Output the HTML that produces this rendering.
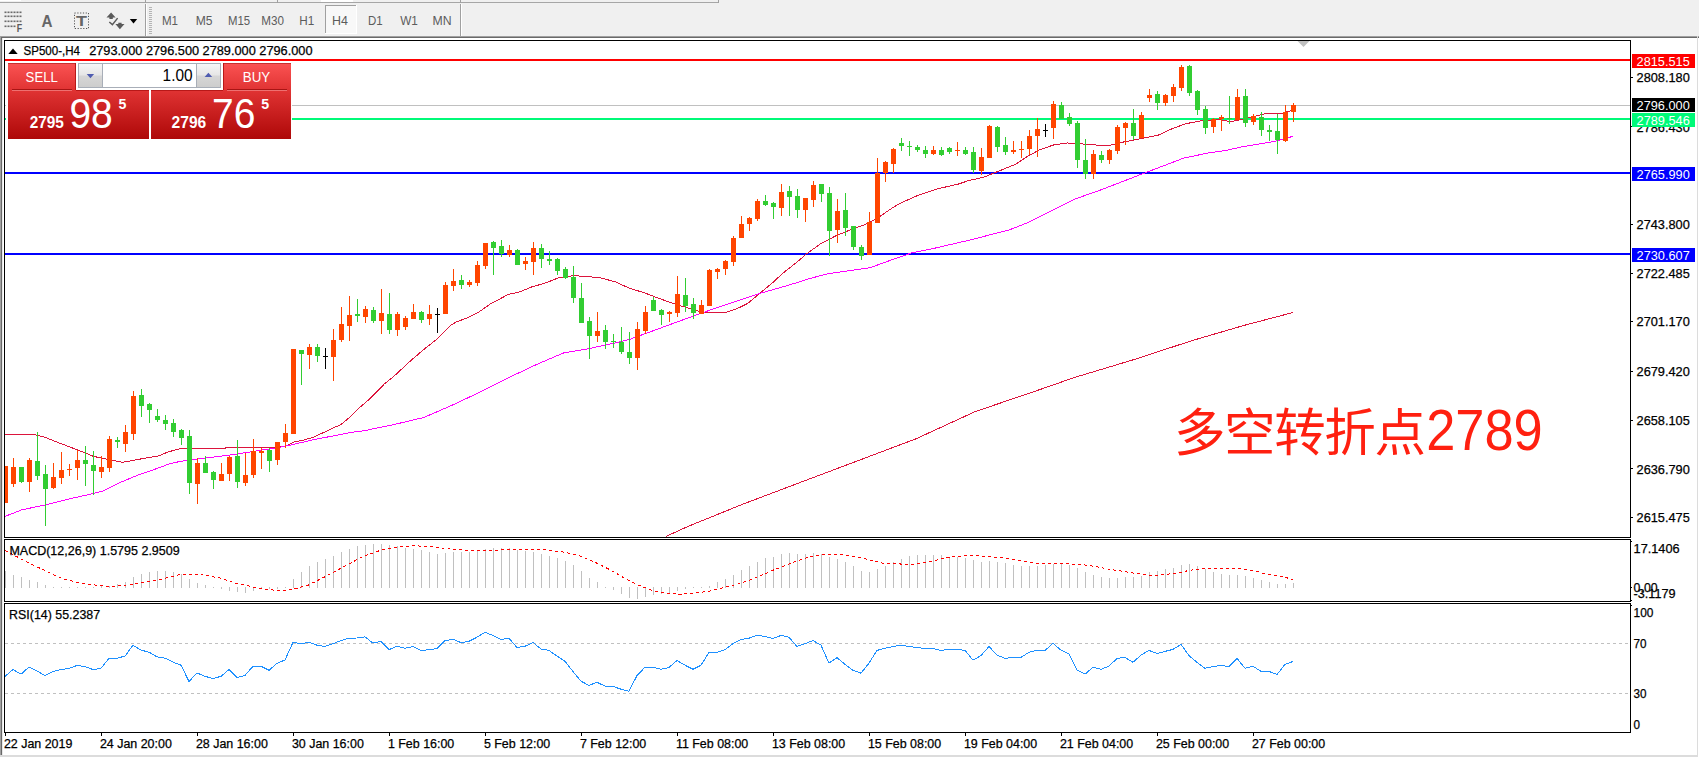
<!DOCTYPE html>
<html lang="zh"><head><meta charset="utf-8"><title>SP500-,H4</title>
<style>html,body{margin:0;padding:0;background:#fff;overflow:hidden}body{width:1699px;height:757px}</style></head>
<body>
<svg width="1699" height="757" viewBox="0 0 1699 757" font-family='"Liberation Sans", sans-serif' style="display:block">
<rect x="0" y="0" width="1699" height="757" fill="#ffffff" />
<rect x="0" y="0" width="1699" height="36" fill="#f0f0f0" />
<g shape-rendering="crispEdges">
<rect x="0" y="2" width="718" height="1" fill="#a6a6a6" />
<rect x="0" y="0" width="21" height="1" fill="#ffffff" />
<rect x="321" y="0" width="32" height="2" fill="#ffffff" />
<rect x="145" y="0" width="1" height="3" fill="#a0a0a0" />
<rect x="277" y="0" width="1" height="3" fill="#a0a0a0" />
<rect x="460" y="0" width="1" height="3" fill="#a0a0a0" />
<rect x="718" y="0" width="1" height="3" fill="#a0a0a0" />
<rect x="145" y="4" width="1" height="32" fill="#a0a0a0" />
<rect x="146" y="4" width="1" height="32" fill="#ffffff" />
<rect x="460" y="4" width="1" height="32" fill="#a0a0a0" />
<rect x="461" y="4" width="1" height="32" fill="#ffffff" />
<rect x="149" y="7" width="3" height="1" fill="#b4b4b4" />
<rect x="149" y="9" width="3" height="1" fill="#b4b4b4" />
<rect x="149" y="11" width="3" height="1" fill="#b4b4b4" />
<rect x="149" y="13" width="3" height="1" fill="#b4b4b4" />
<rect x="149" y="15" width="3" height="1" fill="#b4b4b4" />
<rect x="149" y="17" width="3" height="1" fill="#b4b4b4" />
<rect x="149" y="19" width="3" height="1" fill="#b4b4b4" />
<rect x="149" y="21" width="3" height="1" fill="#b4b4b4" />
<rect x="149" y="23" width="3" height="1" fill="#b4b4b4" />
<rect x="149" y="25" width="3" height="1" fill="#b4b4b4" />
<rect x="149" y="27" width="3" height="1" fill="#b4b4b4" />
<rect x="149" y="29" width="3" height="1" fill="#b4b4b4" />
<rect x="149" y="31" width="3" height="1" fill="#b4b4b4" />
<rect x="149" y="33" width="3" height="1" fill="#b4b4b4" />
<rect x="325" y="5" width="32" height="29" fill="#f8f8f8" />
<rect x="325" y="5" width="32" height="1" fill="#a0a0a0" />
<rect x="325" y="5" width="1" height="29" fill="#a0a0a0" />
<rect x="325" y="33" width="32" height="1" fill="#ffffff" />
<rect x="356" y="5" width="1" height="29" fill="#ffffff" />
<rect x="0" y="36" width="1699" height="1" fill="#a0a0a0" />
<rect x="0" y="37" width="1699" height="1" fill="#696969" />
<rect x="0" y="36" width="1" height="721" fill="#a0a0a0" />
<rect x="1" y="37" width="1" height="720" fill="#696969" />
<rect x="2" y="38" width="1" height="719" fill="#e8e8e8" />
<rect x="1697" y="36" width="1" height="721" fill="#dcdcdc" />
<rect x="0" y="755" width="1698" height="2" fill="#dcdcdc" />
</g>
<g fill="#6a6a6a">
<rect x="4.5" y="11.5" width="2" height="1.6" fill="#6a6a6a" />
<rect x="7.5" y="11.5" width="2" height="1.6" fill="#6a6a6a" />
<rect x="10.5" y="11.5" width="2" height="1.6" fill="#6a6a6a" />
<rect x="13.5" y="11.5" width="2" height="1.6" fill="#6a6a6a" />
<rect x="16.5" y="11.5" width="2" height="1.6" fill="#6a6a6a" />
<rect x="19.5" y="11.5" width="2" height="1.6" fill="#6a6a6a" />
<rect x="4.5" y="15.5" width="2" height="1.6" fill="#6a6a6a" />
<rect x="7.5" y="15.5" width="2" height="1.6" fill="#6a6a6a" />
<rect x="10.5" y="15.5" width="2" height="1.6" fill="#6a6a6a" />
<rect x="13.5" y="15.5" width="2" height="1.6" fill="#6a6a6a" />
<rect x="16.5" y="15.5" width="2" height="1.6" fill="#6a6a6a" />
<rect x="19.5" y="15.5" width="2" height="1.6" fill="#6a6a6a" />
<rect x="4.5" y="20.5" width="2" height="1.6" fill="#6a6a6a" />
<rect x="7.5" y="20.5" width="2" height="1.6" fill="#6a6a6a" />
<rect x="10.5" y="20.5" width="2" height="1.6" fill="#6a6a6a" />
<rect x="13.5" y="20.5" width="2" height="1.6" fill="#6a6a6a" />
<rect x="16.5" y="20.5" width="2" height="1.6" fill="#6a6a6a" />
<rect x="19.5" y="20.5" width="2" height="1.6" fill="#6a6a6a" />
<rect x="4.5" y="25.5" width="2" height="1.6" fill="#6a6a6a" />
<rect x="7.5" y="25.5" width="2" height="1.6" fill="#6a6a6a" />
<rect x="10.5" y="25.5" width="2" height="1.6" fill="#6a6a6a" />
<rect x="13.5" y="25.5" width="2" height="1.6" fill="#6a6a6a" />
</g>
<text x="16.8" y="31.6" font-size="10.6" fill="#5a5a5a" textLength="5.4" lengthAdjust="spacingAndGlyphs" font-weight="bold">F</text>
<text x="41.5" y="27" font-size="16.5" fill="#666" textLength="11" lengthAdjust="spacingAndGlyphs" font-weight="bold">A</text>
<rect x="74.5" y="13" width="14" height="15.5" fill="none" stroke="#555" stroke-width="1" stroke-dasharray="1.2,1.6"/>
<text x="76" y="26.2" font-size="14" fill="#666" textLength="11" lengthAdjust="spacingAndGlyphs" font-weight="bold">T</text>
<path d="M106.5 17.6 L111.1 12.4 L115.6 17.6 L112.8 17.6 L112.8 18.9 L109.4 18.9 L109.4 17.6 Z M118.3 22.8 L121.6 22.8 L121.6 24.1 L124.5 24.1 L119.9 29.2 L115.4 24.1 L118.3 24.1 Z" fill="#5a5a5a"/>
<path d="M109.3 22 L112.4 24.6 L117.6 18.1" fill="none" stroke="#5a5a5a" stroke-width="1.5"/>
<path d="M129.8 18.9 L137.2 18.9 L133.5 23.4 Z" fill="#000"/>
<text x="161.9" y="25" font-size="12.6" fill="#5c5c5c" textLength="16.1" lengthAdjust="spacingAndGlyphs">M1</text>
<text x="195.7" y="25" font-size="12.6" fill="#5c5c5c" textLength="16.8" lengthAdjust="spacingAndGlyphs">M5</text>
<text x="228" y="25" font-size="12.6" fill="#5c5c5c" textLength="22.1" lengthAdjust="spacingAndGlyphs">M15</text>
<text x="261.3" y="25" font-size="12.6" fill="#5c5c5c" textLength="22.7" lengthAdjust="spacingAndGlyphs">M30</text>
<text x="299.3" y="25" font-size="12.6" fill="#5c5c5c" textLength="15.0" lengthAdjust="spacingAndGlyphs">H1</text>
<text x="332" y="25" font-size="12.6" fill="#5c5c5c" textLength="15.9" lengthAdjust="spacingAndGlyphs">H4</text>
<text x="367.9" y="25" font-size="12.6" fill="#5c5c5c" textLength="14.7" lengthAdjust="spacingAndGlyphs">D1</text>
<text x="400.2" y="25" font-size="12.6" fill="#5c5c5c" textLength="17.7" lengthAdjust="spacingAndGlyphs">W1</text>
<text x="432.6" y="25" font-size="12.6" fill="#5c5c5c" textLength="19.1" lengthAdjust="spacingAndGlyphs">MN</text>
<g shape-rendering="crispEdges">
<rect x="4" y="40" width="1627" height="1" fill="#000" />
<rect x="4" y="537" width="1627" height="1" fill="#000" />
<rect x="4" y="40" width="1" height="498" fill="#000" />
<rect x="1630" y="40" width="1" height="498" fill="#000" />
<rect x="4" y="539" width="1627" height="1" fill="#000" />
<rect x="4" y="601" width="1627" height="1" fill="#000" />
<rect x="4" y="539" width="1" height="63" fill="#000" />
<rect x="1630" y="539" width="1" height="63" fill="#000" />
<rect x="4" y="603" width="1627" height="1" fill="#000" />
<rect x="4" y="732" width="1627" height="1" fill="#000" />
<rect x="4" y="603" width="1" height="130" fill="#000" />
<rect x="1630" y="603" width="1" height="130" fill="#000" />
<rect x="5" y="59" width="1625" height="2" fill="#ff0000" />
<rect x="292" y="105" width="1338" height="1" fill="#c0c0c0" />
<rect x="292" y="118" width="1338" height="2" fill="#00fa78" />
<rect x="5" y="118" width="1" height="2" fill="#00fa78" />
<rect x="5" y="105" width="1" height="1" fill="#c0c0c0" />
<rect x="5" y="172" width="1625" height="2" fill="#0000ff" />
<rect x="5" y="253" width="1625" height="2" fill="#0000ff" />
<rect x="1631" y="77" width="2" height="1" fill="#000" />
<rect x="1631" y="126" width="2" height="1" fill="#000" />
<rect x="1631" y="224" width="2" height="1" fill="#000" />
<rect x="1631" y="273" width="2" height="1" fill="#000" />
<rect x="1631" y="321" width="2" height="1" fill="#000" />
<rect x="1631" y="371" width="2" height="1" fill="#000" />
<rect x="1631" y="420" width="2" height="1" fill="#000" />
<rect x="1631" y="468" width="2" height="1" fill="#000" />
<rect x="1631" y="517" width="2" height="1" fill="#000" />
<rect x="1631" y="541" width="1" height="1" fill="#000" />
<rect x="1631" y="587" width="1" height="1" fill="#000" />
<rect x="1631" y="600" width="1" height="1" fill="#000" />
<rect x="1631" y="605" width="1" height="1" fill="#000" />
<rect x="5" y="733" width="1" height="3" fill="#000" />
<rect x="101" y="733" width="1" height="3" fill="#000" />
<rect x="197" y="733" width="1" height="3" fill="#000" />
<rect x="293" y="733" width="1" height="3" fill="#000" />
<rect x="389" y="733" width="1" height="3" fill="#000" />
<rect x="485" y="733" width="1" height="3" fill="#000" />
<rect x="581" y="733" width="1" height="3" fill="#000" />
<rect x="677" y="733" width="1" height="3" fill="#000" />
<rect x="773" y="733" width="1" height="3" fill="#000" />
<rect x="869" y="733" width="1" height="3" fill="#000" />
<rect x="965" y="733" width="1" height="3" fill="#000" />
<rect x="1061" y="733" width="1" height="3" fill="#000" />
<rect x="1157" y="733" width="1" height="3" fill="#000" />
<rect x="1253" y="733" width="1" height="3" fill="#000" />
</g>
<text x="1636.6" y="81.9" font-size="12.6" fill="#000" textLength="53.2" lengthAdjust="spacingAndGlyphs" stroke="#000" stroke-width="0.25">2808.180</text>
<text x="1636.6" y="131.6" font-size="12.6" fill="#000" textLength="53.2" lengthAdjust="spacingAndGlyphs" stroke="#000" stroke-width="0.25">2786.430</text>
<text x="1636.6" y="229.0" font-size="12.6" fill="#000" textLength="53.2" lengthAdjust="spacingAndGlyphs" stroke="#000" stroke-width="0.25">2743.800</text>
<text x="1636.6" y="277.7" font-size="12.6" fill="#000" textLength="53.2" lengthAdjust="spacingAndGlyphs" stroke="#000" stroke-width="0.25">2722.485</text>
<text x="1636.6" y="326.4" font-size="12.6" fill="#000" textLength="53.2" lengthAdjust="spacingAndGlyphs" stroke="#000" stroke-width="0.25">2701.170</text>
<text x="1636.6" y="376.0" font-size="12.6" fill="#000" textLength="53.2" lengthAdjust="spacingAndGlyphs" stroke="#000" stroke-width="0.25">2679.420</text>
<text x="1636.6" y="424.8" font-size="12.6" fill="#000" textLength="53.2" lengthAdjust="spacingAndGlyphs" stroke="#000" stroke-width="0.25">2658.105</text>
<text x="1636.6" y="473.5" font-size="12.6" fill="#000" textLength="53.2" lengthAdjust="spacingAndGlyphs" stroke="#000" stroke-width="0.25">2636.790</text>
<text x="1636.6" y="522.2" font-size="12.6" fill="#000" textLength="53.2" lengthAdjust="spacingAndGlyphs" stroke="#000" stroke-width="0.25">2615.475</text>
<rect x="1632" y="54" width="63" height="14" fill="#ff0000" shape-rendering="crispEdges"/>
<text x="1636.6" y="65.7" font-size="12.6" fill="#fff" textLength="53.2" lengthAdjust="spacingAndGlyphs">2815.515</text>
<rect x="1632" y="98" width="63" height="14" fill="#000000" shape-rendering="crispEdges"/>
<text x="1636.6" y="109.7" font-size="12.6" fill="#fff" textLength="53.2" lengthAdjust="spacingAndGlyphs">2796.000</text>
<rect x="1632" y="113" width="63" height="14" fill="#00fa78" shape-rendering="crispEdges"/>
<text x="1636.6" y="124.7" font-size="12.6" fill="#fff" textLength="53.2" lengthAdjust="spacingAndGlyphs">2789.546</text>
<rect x="1632" y="167" width="63" height="14" fill="#0000ff" shape-rendering="crispEdges"/>
<text x="1636.6" y="178.7" font-size="12.6" fill="#fff" textLength="53.2" lengthAdjust="spacingAndGlyphs">2765.990</text>
<rect x="1632" y="248" width="63" height="14" fill="#0000ff" shape-rendering="crispEdges"/>
<text x="1636.6" y="259.7" font-size="12.6" fill="#fff" textLength="53.2" lengthAdjust="spacingAndGlyphs">2730.607</text>
<polyline points="665.6,536.6 687.3,526.7 742.5,504.3 797.7,483.4 845.0,465.6 916.0,438.8 975.2,411.6 1034.3,391.5 1073.8,377.7 1132.9,359.9 1192.1,340.6 1243.3,325.6 1292.6,312.6" fill="none" stroke="#dc143c" stroke-width="1" shape-rendering="crispEdges" />
<polyline points="5.0,434.1 32.7,434.1 45.6,437.5 61.4,443.8 77.3,449.8 93.2,456.3 107.0,459.3 122.9,462.3 138.8,459.3 158.6,455.9 168.5,451.8 180.4,448.6 195.0,448.7 225.0,448.7 226.0,447.5 274.0,447.5 286.0,446.1 294.0,441.9 304.0,440.0 314.0,437.0 333.8,427.7 340.5,424.8 348.4,418.4 360.3,407.0 370.2,398.4 384.1,384.2 394.0,376.2 409.9,361.4 423.8,349.5 437.6,338.6 450.9,325.1 456.8,321.7 466.7,318.2 478.6,312.2 490.5,303.9 508.4,294.4 518.3,292.4 532.1,286.8 544.0,283.5 557.9,278.1 573.8,275.5 583.7,276.5 599.5,277.5 615.4,281.9 629.0,288.0 644.9,293.0 658.7,298.3 674.6,303.9 688.5,308.2 702.3,312.2 726.1,312.2 736.0,309.2 747.9,303.3 759.8,293.4 771.7,283.5 783.6,272.6 797.5,261.7 806.3,254.0 820.2,244.1 836.1,235.7 851.9,229.2 863.8,225.2 875.7,219.3 891.6,208.4 898.9,203.9 918.7,195.0 938.5,188.6 958.3,184.1 968.3,180.7 984.1,177.1 996.0,172.2 1015.8,164.2 1027.7,156.3 1039.6,149.8 1053.5,145.0 1067.4,143.0 1080.9,143.8 1096.8,145.1 1110.6,145.1 1122.5,142.2 1138.4,139.2 1158.2,135.2 1172.1,128.7 1185.9,123.7 1199.8,121.0 1219.6,119.4 1230.0,121.8 1239.5,119.8 1248.0,117.8 1266.0,113.6 1280.7,113.6 1293.4,110.1" fill="none" stroke="#dc143c" stroke-width="1" shape-rendering="crispEdges" />
<polyline points="5.0,516.4 21.8,509.8 45.6,504.9 69.4,498.9 93.2,493.6 103.0,491.0 119.0,483.0 138.8,474.7 150.6,470.8 168.5,464.2 180.4,461.3 195.0,459.4 234.6,454.4 274.3,448.1 286.0,446.1 314.0,439.6 353.6,432.0 364.3,430.7 395.0,424.3 423.8,417.5 453.5,404.6 485.0,389.7 514.3,375.0 536.1,364.7 563.9,352.8 587.6,348.9 615.4,342.9 629.0,339.6 668.6,325.1 702.3,312.8 728.1,303.9 759.8,293.4 787.6,285.5 812.3,277.8 829.0,273.6 869.8,267.8 891.6,259.9 911.4,253.0 933.0,248.6 970.0,240.0 1008.9,230.0 1027.7,222.7 1053.5,209.8 1075.3,198.9 1098.7,190.7 1142.3,173.9 1164.1,165.6 1184.0,158.0 1207.8,153.1 1227.6,150.1 1240.6,147.1 1256.4,144.5 1277.6,140.8 1292.9,136.3" fill="none" stroke="#ff00ff" stroke-width="1" shape-rendering="crispEdges" />
<g shape-rendering="crispEdges">
<rect x="5" y="466" width="1" height="37" fill="#ff4500" />
<rect x="5" y="466" width="3" height="37" fill="#ff4500" />
<rect x="13" y="458" width="1" height="29" fill="#ff4500" />
<rect x="11" y="467" width="5" height="17" fill="#ff4500" />
<rect x="21" y="467" width="1" height="16" fill="#32cd32" />
<rect x="19" y="467" width="5" height="15" fill="#32cd32" />
<rect x="29" y="458" width="1" height="34" fill="#ff4500" />
<rect x="27" y="460" width="5" height="22" fill="#ff4500" />
<rect x="37" y="432" width="1" height="48" fill="#32cd32" />
<rect x="35" y="461" width="5" height="15" fill="#32cd32" />
<rect x="45" y="465" width="1" height="61" fill="#32cd32" />
<rect x="43" y="474" width="5" height="15" fill="#32cd32" />
<rect x="53" y="463" width="1" height="26" fill="#ff4500" />
<rect x="51" y="477" width="5" height="11" fill="#ff4500" />
<rect x="61" y="452" width="1" height="32" fill="#ff4500" />
<rect x="59" y="470" width="5" height="8" fill="#ff4500" />
<rect x="69" y="464" width="1" height="12" fill="#ff4500" />
<rect x="67" y="469" width="5" height="1" fill="#ff4500" />
<rect x="77" y="450" width="1" height="30" fill="#ff4500" />
<rect x="75" y="460" width="5" height="8" fill="#ff4500" />
<rect x="85" y="446" width="1" height="40" fill="#32cd32" />
<rect x="83" y="460" width="5" height="4" fill="#32cd32" />
<rect x="93" y="451" width="1" height="44" fill="#32cd32" />
<rect x="91" y="465" width="5" height="6" fill="#32cd32" />
<rect x="101" y="456" width="1" height="22" fill="#ff4500" />
<rect x="99" y="467" width="5" height="5" fill="#ff4500" />
<rect x="109" y="436" width="1" height="36" fill="#ff4500" />
<rect x="107" y="439" width="5" height="29" fill="#ff4500" />
<rect x="117" y="437" width="1" height="11" fill="#32cd32" />
<rect x="115" y="440" width="5" height="2" fill="#32cd32" />
<rect x="125" y="425" width="1" height="27" fill="#ff4500" />
<rect x="123" y="432" width="5" height="12" fill="#ff4500" />
<rect x="133" y="391" width="1" height="49" fill="#ff4500" />
<rect x="131" y="396" width="5" height="38" fill="#ff4500" />
<rect x="141" y="389" width="1" height="28" fill="#32cd32" />
<rect x="139" y="395" width="5" height="11" fill="#32cd32" />
<rect x="149" y="403" width="1" height="20" fill="#32cd32" />
<rect x="147" y="404" width="5" height="6" fill="#32cd32" />
<rect x="157" y="409" width="1" height="13" fill="#32cd32" />
<rect x="155" y="416" width="5" height="4" fill="#32cd32" />
<rect x="165" y="415" width="1" height="15" fill="#32cd32" />
<rect x="163" y="420" width="5" height="4" fill="#32cd32" />
<rect x="173" y="419" width="1" height="18" fill="#32cd32" />
<rect x="171" y="423" width="5" height="9" fill="#32cd32" />
<rect x="181" y="429" width="1" height="16" fill="#32cd32" />
<rect x="179" y="430" width="5" height="8" fill="#32cd32" />
<rect x="189" y="430" width="1" height="64" fill="#32cd32" />
<rect x="187" y="436" width="5" height="47" fill="#32cd32" />
<rect x="197" y="458" width="1" height="46" fill="#ff4500" />
<rect x="195" y="463" width="5" height="21" fill="#ff4500" />
<rect x="205" y="456" width="1" height="17" fill="#32cd32" />
<rect x="203" y="463" width="5" height="10" fill="#32cd32" />
<rect x="213" y="471" width="1" height="18" fill="#32cd32" />
<rect x="211" y="472" width="5" height="8" fill="#32cd32" />
<rect x="221" y="463" width="1" height="18" fill="#ff4500" />
<rect x="219" y="474" width="5" height="7" fill="#ff4500" />
<rect x="229" y="456" width="1" height="25" fill="#ff4500" />
<rect x="227" y="457" width="5" height="17" fill="#ff4500" />
<rect x="237" y="440" width="1" height="48" fill="#32cd32" />
<rect x="235" y="456" width="5" height="26" fill="#32cd32" />
<rect x="245" y="453" width="1" height="33" fill="#ff4500" />
<rect x="243" y="475" width="5" height="8" fill="#ff4500" />
<rect x="253" y="439" width="1" height="39" fill="#ff4500" />
<rect x="251" y="451" width="5" height="24" fill="#ff4500" />
<rect x="261" y="448" width="1" height="21" fill="#ff4500" />
<rect x="259" y="451" width="5" height="2" fill="#ff4500" />
<rect x="269" y="448" width="1" height="24" fill="#32cd32" />
<rect x="267" y="450" width="5" height="11" fill="#32cd32" />
<rect x="277" y="442" width="1" height="23" fill="#ff4500" />
<rect x="275" y="442" width="5" height="18" fill="#ff4500" />
<rect x="285" y="424" width="1" height="24" fill="#ff4500" />
<rect x="283" y="433" width="5" height="9" fill="#ff4500" />
<rect x="293" y="349" width="1" height="85" fill="#ff4500" />
<rect x="291" y="349" width="5" height="85" fill="#ff4500" />
<rect x="301" y="350" width="1" height="35" fill="#32cd32" />
<rect x="299" y="350" width="5" height="4" fill="#32cd32" />
<rect x="309" y="344" width="1" height="25" fill="#ff4500" />
<rect x="307" y="347" width="5" height="8" fill="#ff4500" />
<rect x="317" y="344" width="1" height="18" fill="#32cd32" />
<rect x="315" y="347" width="5" height="9" fill="#32cd32" />
<rect x="325" y="348" width="1" height="21" fill="#000000" />
<rect x="323" y="356" width="5" height="1" fill="#000000" />
<rect x="333" y="329" width="1" height="52" fill="#ff4500" />
<rect x="331" y="340" width="5" height="17" fill="#ff4500" />
<rect x="341" y="307" width="1" height="35" fill="#ff4500" />
<rect x="339" y="324" width="5" height="16" fill="#ff4500" />
<rect x="349" y="296" width="1" height="45" fill="#ff4500" />
<rect x="347" y="315" width="5" height="11" fill="#ff4500" />
<rect x="357" y="299" width="1" height="23" fill="#32cd32" />
<rect x="355" y="314" width="5" height="2" fill="#32cd32" />
<rect x="365" y="306" width="1" height="17" fill="#ff4500" />
<rect x="363" y="309" width="5" height="8" fill="#ff4500" />
<rect x="373" y="307" width="1" height="16" fill="#32cd32" />
<rect x="371" y="310" width="5" height="11" fill="#32cd32" />
<rect x="381" y="289" width="1" height="45" fill="#ff4500" />
<rect x="379" y="313" width="5" height="8" fill="#ff4500" />
<rect x="389" y="293" width="1" height="41" fill="#32cd32" />
<rect x="387" y="314" width="5" height="16" fill="#32cd32" />
<rect x="397" y="312" width="1" height="24" fill="#ff4500" />
<rect x="395" y="314" width="5" height="16" fill="#ff4500" />
<rect x="405" y="316" width="1" height="14" fill="#ff4500" />
<rect x="403" y="318" width="5" height="9" fill="#ff4500" />
<rect x="413" y="304" width="1" height="15" fill="#ff4500" />
<rect x="411" y="312" width="5" height="7" fill="#ff4500" />
<rect x="421" y="311" width="1" height="12" fill="#32cd32" />
<rect x="419" y="312" width="5" height="8" fill="#32cd32" />
<rect x="429" y="305" width="1" height="20" fill="#ff4500" />
<rect x="427" y="314" width="5" height="5" fill="#ff4500" />
<rect x="437" y="308" width="1" height="25" fill="#000000" />
<rect x="435" y="314" width="5" height="1" fill="#000000" />
<rect x="445" y="282" width="1" height="32" fill="#ff4500" />
<rect x="443" y="285" width="5" height="29" fill="#ff4500" />
<rect x="453" y="269" width="1" height="22" fill="#ff4500" />
<rect x="451" y="281" width="5" height="5" fill="#ff4500" />
<rect x="461" y="275" width="1" height="14" fill="#32cd32" />
<rect x="459" y="280" width="5" height="5" fill="#32cd32" />
<rect x="469" y="280" width="1" height="7" fill="#ff4500" />
<rect x="467" y="282" width="5" height="3" fill="#ff4500" />
<rect x="477" y="261" width="1" height="25" fill="#ff4500" />
<rect x="475" y="265" width="5" height="18" fill="#ff4500" />
<rect x="485" y="243" width="1" height="26" fill="#ff4500" />
<rect x="483" y="243" width="5" height="23" fill="#ff4500" />
<rect x="493" y="241" width="1" height="34" fill="#32cd32" />
<rect x="491" y="242" width="5" height="6" fill="#32cd32" />
<rect x="501" y="240" width="1" height="17" fill="#32cd32" />
<rect x="499" y="246" width="5" height="8" fill="#32cd32" />
<rect x="509" y="245" width="1" height="12" fill="#ff4500" />
<rect x="507" y="250" width="5" height="5" fill="#ff4500" />
<rect x="517" y="249" width="1" height="16" fill="#32cd32" />
<rect x="515" y="250" width="5" height="15" fill="#32cd32" />
<rect x="525" y="257" width="1" height="13" fill="#ff4500" />
<rect x="523" y="261" width="5" height="3" fill="#ff4500" />
<rect x="533" y="242" width="1" height="33" fill="#ff4500" />
<rect x="531" y="248" width="5" height="14" fill="#ff4500" />
<rect x="541" y="244" width="1" height="24" fill="#32cd32" />
<rect x="539" y="248" width="5" height="11" fill="#32cd32" />
<rect x="549" y="251" width="1" height="14" fill="#32cd32" />
<rect x="547" y="259" width="5" height="2" fill="#32cd32" />
<rect x="557" y="258" width="1" height="17" fill="#32cd32" />
<rect x="555" y="259" width="5" height="12" fill="#32cd32" />
<rect x="565" y="267" width="1" height="12" fill="#32cd32" />
<rect x="563" y="269" width="5" height="9" fill="#32cd32" />
<rect x="573" y="266" width="1" height="37" fill="#32cd32" />
<rect x="571" y="277" width="5" height="21" fill="#32cd32" />
<rect x="581" y="283" width="1" height="40" fill="#32cd32" />
<rect x="579" y="298" width="5" height="25" fill="#32cd32" />
<rect x="589" y="317" width="1" height="42" fill="#32cd32" />
<rect x="587" y="321" width="5" height="15" fill="#32cd32" />
<rect x="597" y="312" width="1" height="30" fill="#ff4500" />
<rect x="595" y="331" width="5" height="5" fill="#ff4500" />
<rect x="605" y="325" width="1" height="24" fill="#32cd32" />
<rect x="603" y="330" width="5" height="12" fill="#32cd32" />
<rect x="613" y="334" width="1" height="14" fill="#32cd32" />
<rect x="611" y="341" width="5" height="1" fill="#32cd32" />
<rect x="621" y="327" width="1" height="27" fill="#32cd32" />
<rect x="619" y="342" width="5" height="10" fill="#32cd32" />
<rect x="629" y="332" width="1" height="32" fill="#32cd32" />
<rect x="627" y="352" width="5" height="6" fill="#32cd32" />
<rect x="637" y="322" width="1" height="48" fill="#ff4500" />
<rect x="635" y="329" width="5" height="29" fill="#ff4500" />
<rect x="645" y="306" width="1" height="28" fill="#ff4500" />
<rect x="643" y="312" width="5" height="19" fill="#ff4500" />
<rect x="653" y="297" width="1" height="14" fill="#32cd32" />
<rect x="651" y="300" width="5" height="11" fill="#32cd32" />
<rect x="661" y="309" width="1" height="16" fill="#32cd32" />
<rect x="659" y="310" width="5" height="5" fill="#32cd32" />
<rect x="669" y="311" width="1" height="11" fill="#ff4500" />
<rect x="667" y="312" width="5" height="2" fill="#ff4500" />
<rect x="677" y="276" width="1" height="41" fill="#ff4500" />
<rect x="675" y="294" width="5" height="19" fill="#ff4500" />
<rect x="685" y="278" width="1" height="34" fill="#32cd32" />
<rect x="683" y="295" width="5" height="11" fill="#32cd32" />
<rect x="693" y="298" width="1" height="21" fill="#32cd32" />
<rect x="691" y="304" width="5" height="9" fill="#32cd32" />
<rect x="701" y="300" width="1" height="14" fill="#ff4500" />
<rect x="699" y="305" width="5" height="9" fill="#ff4500" />
<rect x="709" y="269" width="1" height="37" fill="#ff4500" />
<rect x="707" y="270" width="5" height="36" fill="#ff4500" />
<rect x="717" y="268" width="1" height="11" fill="#ff4500" />
<rect x="715" y="269" width="5" height="3" fill="#ff4500" />
<rect x="725" y="260" width="1" height="15" fill="#ff4500" />
<rect x="723" y="261" width="5" height="8" fill="#ff4500" />
<rect x="733" y="236" width="1" height="30" fill="#ff4500" />
<rect x="731" y="238" width="5" height="24" fill="#ff4500" />
<rect x="741" y="216" width="1" height="22" fill="#ff4500" />
<rect x="739" y="224" width="5" height="14" fill="#ff4500" />
<rect x="749" y="217" width="1" height="14" fill="#ff4500" />
<rect x="747" y="218" width="5" height="6" fill="#ff4500" />
<rect x="757" y="199" width="1" height="22" fill="#ff4500" />
<rect x="755" y="201" width="5" height="18" fill="#ff4500" />
<rect x="765" y="195" width="1" height="11" fill="#32cd32" />
<rect x="763" y="201" width="5" height="4" fill="#32cd32" />
<rect x="773" y="202" width="1" height="17" fill="#32cd32" />
<rect x="771" y="203" width="5" height="4" fill="#32cd32" />
<rect x="781" y="184" width="1" height="32" fill="#ff4500" />
<rect x="779" y="192" width="5" height="16" fill="#ff4500" />
<rect x="789" y="186" width="1" height="30" fill="#32cd32" />
<rect x="787" y="191" width="5" height="6" fill="#32cd32" />
<rect x="797" y="189" width="1" height="29" fill="#32cd32" />
<rect x="795" y="196" width="5" height="14" fill="#32cd32" />
<rect x="805" y="198" width="1" height="24" fill="#ff4500" />
<rect x="803" y="198" width="5" height="12" fill="#ff4500" />
<rect x="813" y="181" width="1" height="26" fill="#ff4500" />
<rect x="811" y="185" width="5" height="15" fill="#ff4500" />
<rect x="821" y="184" width="1" height="18" fill="#32cd32" />
<rect x="819" y="184" width="5" height="10" fill="#32cd32" />
<rect x="829" y="187" width="1" height="69" fill="#32cd32" />
<rect x="827" y="193" width="5" height="38" fill="#32cd32" />
<rect x="837" y="199" width="1" height="44" fill="#ff4500" />
<rect x="835" y="211" width="5" height="19" fill="#ff4500" />
<rect x="845" y="193" width="1" height="43" fill="#32cd32" />
<rect x="843" y="210" width="5" height="18" fill="#32cd32" />
<rect x="853" y="226" width="1" height="24" fill="#32cd32" />
<rect x="851" y="226" width="5" height="21" fill="#32cd32" />
<rect x="861" y="245" width="1" height="15" fill="#32cd32" />
<rect x="859" y="247" width="5" height="9" fill="#32cd32" />
<rect x="869" y="212" width="1" height="43" fill="#ff4500" />
<rect x="867" y="222" width="5" height="33" fill="#ff4500" />
<rect x="877" y="158" width="1" height="65" fill="#ff4500" />
<rect x="875" y="173" width="5" height="50" fill="#ff4500" />
<rect x="885" y="161" width="1" height="21" fill="#ff4500" />
<rect x="883" y="162" width="5" height="11" fill="#ff4500" />
<rect x="893" y="148" width="1" height="25" fill="#ff4500" />
<rect x="891" y="149" width="5" height="15" fill="#ff4500" />
<rect x="901" y="138" width="1" height="13" fill="#32cd32" />
<rect x="899" y="143" width="5" height="3" fill="#32cd32" />
<rect x="909" y="141" width="1" height="15" fill="#32cd32" />
<rect x="907" y="146" width="5" height="1" fill="#32cd32" />
<rect x="917" y="145" width="1" height="7" fill="#32cd32" />
<rect x="915" y="147" width="5" height="3" fill="#32cd32" />
<rect x="925" y="146" width="1" height="12" fill="#32cd32" />
<rect x="923" y="150" width="5" height="4" fill="#32cd32" />
<rect x="933" y="146" width="1" height="9" fill="#ff4500" />
<rect x="931" y="150" width="5" height="4" fill="#ff4500" />
<rect x="941" y="147" width="1" height="9" fill="#32cd32" />
<rect x="939" y="150" width="5" height="5" fill="#32cd32" />
<rect x="949" y="147" width="1" height="7" fill="#32cd32" />
<rect x="947" y="148" width="5" height="4" fill="#32cd32" />
<rect x="957" y="142" width="1" height="14" fill="#ff4500" />
<rect x="955" y="150" width="5" height="1" fill="#ff4500" />
<rect x="965" y="147" width="1" height="8" fill="#32cd32" />
<rect x="963" y="150" width="5" height="4" fill="#32cd32" />
<rect x="973" y="147" width="1" height="26" fill="#32cd32" />
<rect x="971" y="152" width="5" height="18" fill="#32cd32" />
<rect x="981" y="148" width="1" height="27" fill="#ff4500" />
<rect x="979" y="157" width="5" height="14" fill="#ff4500" />
<rect x="989" y="125" width="1" height="33" fill="#ff4500" />
<rect x="987" y="126" width="5" height="32" fill="#ff4500" />
<rect x="997" y="126" width="1" height="26" fill="#32cd32" />
<rect x="995" y="127" width="5" height="20" fill="#32cd32" />
<rect x="1005" y="137" width="1" height="18" fill="#32cd32" />
<rect x="1003" y="145" width="5" height="7" fill="#32cd32" />
<rect x="1013" y="141" width="1" height="13" fill="#ff4500" />
<rect x="1011" y="150" width="5" height="2" fill="#ff4500" />
<rect x="1021" y="141" width="1" height="17" fill="#ff4500" />
<rect x="1019" y="149" width="5" height="1" fill="#ff4500" />
<rect x="1029" y="130" width="1" height="25" fill="#ff4500" />
<rect x="1027" y="136" width="5" height="13" fill="#ff4500" />
<rect x="1037" y="118" width="1" height="39" fill="#ff4500" />
<rect x="1035" y="129" width="5" height="7" fill="#ff4500" />
<rect x="1045" y="124" width="1" height="13" fill="#000000" />
<rect x="1043" y="130" width="5" height="1" fill="#000000" />
<rect x="1053" y="101" width="1" height="38" fill="#ff4500" />
<rect x="1051" y="104" width="5" height="24" fill="#ff4500" />
<rect x="1061" y="102" width="1" height="17" fill="#32cd32" />
<rect x="1059" y="105" width="5" height="14" fill="#32cd32" />
<rect x="1069" y="113" width="1" height="13" fill="#32cd32" />
<rect x="1067" y="117" width="5" height="7" fill="#32cd32" />
<rect x="1077" y="121" width="1" height="47" fill="#32cd32" />
<rect x="1075" y="123" width="5" height="37" fill="#32cd32" />
<rect x="1085" y="139" width="1" height="40" fill="#32cd32" />
<rect x="1083" y="160" width="5" height="14" fill="#32cd32" />
<rect x="1093" y="150" width="1" height="29" fill="#ff4500" />
<rect x="1091" y="154" width="5" height="20" fill="#ff4500" />
<rect x="1101" y="151" width="1" height="12" fill="#32cd32" />
<rect x="1099" y="155" width="5" height="5" fill="#32cd32" />
<rect x="1109" y="149" width="1" height="15" fill="#ff4500" />
<rect x="1107" y="150" width="5" height="10" fill="#ff4500" />
<rect x="1117" y="125" width="1" height="29" fill="#ff4500" />
<rect x="1115" y="127" width="5" height="24" fill="#ff4500" />
<rect x="1125" y="122" width="1" height="23" fill="#ff4500" />
<rect x="1123" y="123" width="5" height="5" fill="#ff4500" />
<rect x="1133" y="109" width="1" height="31" fill="#32cd32" />
<rect x="1131" y="123" width="5" height="13" fill="#32cd32" />
<rect x="1141" y="112" width="1" height="26" fill="#ff4500" />
<rect x="1139" y="115" width="5" height="23" fill="#ff4500" />
<rect x="1149" y="89" width="1" height="13" fill="#ff4500" />
<rect x="1147" y="95" width="5" height="3" fill="#ff4500" />
<rect x="1157" y="91" width="1" height="19" fill="#32cd32" />
<rect x="1155" y="94" width="5" height="9" fill="#32cd32" />
<rect x="1165" y="94" width="1" height="12" fill="#ff4500" />
<rect x="1163" y="95" width="5" height="8" fill="#ff4500" />
<rect x="1173" y="84" width="1" height="18" fill="#ff4500" />
<rect x="1171" y="87" width="5" height="9" fill="#ff4500" />
<rect x="1181" y="65" width="1" height="26" fill="#ff4500" />
<rect x="1179" y="67" width="5" height="21" fill="#ff4500" />
<rect x="1189" y="65" width="1" height="31" fill="#32cd32" />
<rect x="1187" y="66" width="5" height="27" fill="#32cd32" />
<rect x="1197" y="90" width="1" height="25" fill="#32cd32" />
<rect x="1195" y="91" width="5" height="19" fill="#32cd32" />
<rect x="1205" y="106" width="1" height="28" fill="#32cd32" />
<rect x="1203" y="109" width="5" height="19" fill="#32cd32" />
<rect x="1213" y="118" width="1" height="15" fill="#ff4500" />
<rect x="1211" y="119" width="5" height="8" fill="#ff4500" />
<rect x="1221" y="115" width="1" height="16" fill="#ff4500" />
<rect x="1219" y="117" width="5" height="2" fill="#ff4500" />
<rect x="1229" y="96" width="1" height="28" fill="#32cd32" />
<rect x="1227" y="118" width="5" height="1" fill="#32cd32" />
<rect x="1237" y="89" width="1" height="31" fill="#ff4500" />
<rect x="1235" y="97" width="5" height="23" fill="#ff4500" />
<rect x="1245" y="89" width="1" height="38" fill="#32cd32" />
<rect x="1243" y="96" width="5" height="27" fill="#32cd32" />
<rect x="1253" y="114" width="1" height="11" fill="#ff4500" />
<rect x="1251" y="116" width="5" height="6" fill="#ff4500" />
<rect x="1261" y="112" width="1" height="24" fill="#32cd32" />
<rect x="1259" y="117" width="5" height="13" fill="#32cd32" />
<rect x="1269" y="125" width="1" height="16" fill="#32cd32" />
<rect x="1267" y="130" width="5" height="2" fill="#32cd32" />
<rect x="1277" y="114" width="1" height="40" fill="#32cd32" />
<rect x="1275" y="131" width="5" height="9" fill="#32cd32" />
<rect x="1285" y="105" width="1" height="37" fill="#ff4500" />
<rect x="1283" y="112" width="5" height="29" fill="#ff4500" />
<rect x="1293" y="103" width="1" height="19" fill="#ff4500" />
<rect x="1291" y="105" width="5" height="7" fill="#ff4500" />
</g>
<path d="M1297.5 41 L1309.5 41 L1303.5 47 Z" fill="#c0c0c0"/>
<text x="1174" y="451" font-size="51.5" fill="#ff2010" textLength="252" lengthAdjust="spacing" font-family='"Liberation Sans", "Noto Sans CJK SC", sans-serif'>多空转折点</text>
<text x="1426.2" y="450" font-size="57" fill="#ff2010" textLength="116.5" lengthAdjust="spacingAndGlyphs" font-family='"Liberation Sans", "Noto Sans CJK SC", sans-serif'>2789</text>
<path d="M8.3 54 L17.7 54 L13 48.5 Z" fill="#000"/>
<text x="23.5" y="55" font-size="12.6" fill="#000" textLength="56.5" lengthAdjust="spacingAndGlyphs" stroke="#000" stroke-width="0.25">SP500-,H4</text>
<text x="89.2" y="55" font-size="12.6" fill="#000" textLength="223.3" lengthAdjust="spacingAndGlyphs" stroke="#000" stroke-width="0.25">2793.000 2796.500 2789.000 2796.000</text>
<defs><linearGradient id="rg" x1="0" y1="0" x2="0" y2="1"><stop offset="0" stop-color="#fb5353"/><stop offset="0.36" stop-color="#e03333"/><stop offset="1" stop-color="#ae0808"/></linearGradient><linearGradient id="bg" x1="0" y1="0" x2="0" y2="1"><stop offset="0" stop-color="#f6f6f6"/><stop offset="0.48" stop-color="#e6e6e6"/><stop offset="0.52" stop-color="#d6d6d6"/><stop offset="1" stop-color="#cdcdcd"/></linearGradient></defs>
<g shape-rendering="crispEdges">
<path d="M8 63 H75 V90 H149 V139 H8 Z" fill="url(#rg)"/>
<path d="M224 63 H291 V139 H151 V90 H224 Z" fill="url(#rg)"/>
<rect x="12" y="89" width="60" height="1" fill="#a81414" />
<rect x="227" y="89" width="60" height="1" fill="#a81414" />
<rect x="12" y="90" width="60" height="1" fill="#ee7070" />
<rect x="227" y="90" width="60" height="1" fill="#ee7070" />
<rect x="8" y="63" width="67" height="1" fill="#c83030" />
<rect x="224" y="63" width="67" height="1" fill="#c83030" />
<rect x="75" y="63" width="1" height="27" fill="#b81818" />
<rect x="223" y="63" width="1" height="27" fill="#b81818" />
<rect x="76" y="90" width="73" height="1" fill="#b81818" />
<rect x="151" y="90" width="72" height="1" fill="#b81818" />
<rect x="76" y="63" width="147" height="27" fill="#ffffff" />
<rect x="78.5" y="63.5" width="142" height="24" fill="#ffffff" stroke="#a8aeb8"/>
<rect x="79" y="64" width="23" height="23" fill="url(#bg)" />
<rect x="197" y="64" width="23" height="23" fill="url(#bg)" />
<rect x="102" y="64" width="1" height="23" fill="#a8aeb8" />
<rect x="196" y="64" width="1" height="23" fill="#a8aeb8" />
</g>
<path d="M86.7 74 L94.1 74 L90.4 78.2 Z" fill="#4f5cb0"/>
<path d="M204.6 77.1 L212.2 77.1 L208.4 72.8 Z" fill="#4f5cb0"/>
<text x="25.6" y="82.1" font-size="15.2" fill="#fff" textLength="32.3" lengthAdjust="spacingAndGlyphs">SELL</text>
<text x="242.8" y="82.1" font-size="15.2" fill="#fff" textLength="27.4" lengthAdjust="spacingAndGlyphs">BUY</text>
<text x="162.6" y="80.8" font-size="16.6" fill="#000" textLength="30" lengthAdjust="spacingAndGlyphs">1.00</text>
<text x="29.7" y="127.8" font-size="16.5" fill="#fff" textLength="34.2" lengthAdjust="spacingAndGlyphs" font-weight="bold">2795</text>
<text x="69.4" y="127.8" font-size="42.3" fill="#fff" textLength="43.4" lengthAdjust="spacingAndGlyphs">98</text>
<text x="118.6" y="109.3" font-size="14.2" fill="#fff" font-weight="bold">5</text>
<text x="171.6" y="127.8" font-size="16.5" fill="#fff" textLength="34.7" lengthAdjust="spacingAndGlyphs" font-weight="bold">2796</text>
<text x="212.1" y="127.8" font-size="42.3" fill="#fff" textLength="43.4" lengthAdjust="spacingAndGlyphs">76</text>
<text x="261.3" y="109.3" font-size="14.2" fill="#fff" font-weight="bold">5</text>
<g shape-rendering="crispEdges">
<rect x="5" y="571" width="1" height="17" fill="#c0c0c0" />
<rect x="13" y="575" width="1" height="13" fill="#c0c0c0" />
<rect x="21" y="577" width="1" height="11" fill="#c0c0c0" />
<rect x="29" y="580" width="1" height="8" fill="#c0c0c0" />
<rect x="37" y="582" width="1" height="6" fill="#c0c0c0" />
<rect x="45" y="585" width="1" height="3" fill="#c0c0c0" />
<rect x="53" y="587" width="1" height="1" fill="#c0c0c0" />
<rect x="61" y="587" width="1" height="1" fill="#c0c0c0" />
<rect x="69" y="587" width="1" height="1" fill="#c0c0c0" />
<rect x="77" y="587" width="1" height="1" fill="#c0c0c0" />
<rect x="85" y="587" width="1" height="1" fill="#c0c0c0" />
<rect x="93" y="587" width="1" height="1" fill="#c0c0c0" />
<rect x="101" y="586" width="1" height="2" fill="#c0c0c0" />
<rect x="109" y="586" width="1" height="2" fill="#c0c0c0" />
<rect x="117" y="584" width="1" height="4" fill="#c0c0c0" />
<rect x="125" y="582" width="1" height="6" fill="#c0c0c0" />
<rect x="133" y="577" width="1" height="11" fill="#c0c0c0" />
<rect x="141" y="574" width="1" height="14" fill="#c0c0c0" />
<rect x="149" y="572" width="1" height="16" fill="#c0c0c0" />
<rect x="157" y="571" width="1" height="17" fill="#c0c0c0" />
<rect x="165" y="571" width="1" height="17" fill="#c0c0c0" />
<rect x="173" y="572" width="1" height="16" fill="#c0c0c0" />
<rect x="181" y="574" width="1" height="14" fill="#c0c0c0" />
<rect x="189" y="579" width="1" height="9" fill="#c0c0c0" />
<rect x="197" y="583" width="1" height="5" fill="#c0c0c0" />
<rect x="205" y="585" width="1" height="3" fill="#c0c0c0" />
<rect x="213" y="587" width="1" height="1" fill="#c0c0c0" />
<rect x="221" y="587" width="1" height="2" fill="#c0c0c0" />
<rect x="229" y="587" width="1" height="4" fill="#c0c0c0" />
<rect x="237" y="587" width="1" height="5" fill="#c0c0c0" />
<rect x="245" y="587" width="1" height="6" fill="#c0c0c0" />
<rect x="253" y="587" width="1" height="4" fill="#c0c0c0" />
<rect x="261" y="587" width="1" height="2" fill="#c0c0c0" />
<rect x="269" y="587" width="1" height="2" fill="#c0c0c0" />
<rect x="277" y="587" width="1" height="2" fill="#c0c0c0" />
<rect x="285" y="587" width="1" height="1" fill="#c0c0c0" />
<rect x="293" y="579" width="1" height="9" fill="#c0c0c0" />
<rect x="301" y="572" width="1" height="16" fill="#c0c0c0" />
<rect x="309" y="566" width="1" height="22" fill="#c0c0c0" />
<rect x="317" y="562" width="1" height="26" fill="#c0c0c0" />
<rect x="325" y="559" width="1" height="29" fill="#c0c0c0" />
<rect x="333" y="556" width="1" height="32" fill="#c0c0c0" />
<rect x="341" y="552" width="1" height="36" fill="#c0c0c0" />
<rect x="349" y="549" width="1" height="39" fill="#c0c0c0" />
<rect x="357" y="546" width="1" height="42" fill="#c0c0c0" />
<rect x="365" y="545" width="1" height="43" fill="#c0c0c0" />
<rect x="373" y="544" width="1" height="44" fill="#c0c0c0" />
<rect x="381" y="544" width="1" height="44" fill="#c0c0c0" />
<rect x="389" y="545" width="1" height="43" fill="#c0c0c0" />
<rect x="397" y="546" width="1" height="42" fill="#c0c0c0" />
<rect x="405" y="548" width="1" height="40" fill="#c0c0c0" />
<rect x="413" y="549" width="1" height="39" fill="#c0c0c0" />
<rect x="421" y="550" width="1" height="38" fill="#c0c0c0" />
<rect x="429" y="552" width="1" height="36" fill="#c0c0c0" />
<rect x="437" y="554" width="1" height="34" fill="#c0c0c0" />
<rect x="445" y="553" width="1" height="35" fill="#c0c0c0" />
<rect x="453" y="552" width="1" height="36" fill="#c0c0c0" />
<rect x="461" y="552" width="1" height="36" fill="#c0c0c0" />
<rect x="469" y="552" width="1" height="36" fill="#c0c0c0" />
<rect x="477" y="550" width="1" height="38" fill="#c0c0c0" />
<rect x="485" y="549" width="1" height="39" fill="#c0c0c0" />
<rect x="493" y="548" width="1" height="40" fill="#c0c0c0" />
<rect x="501" y="548" width="1" height="40" fill="#c0c0c0" />
<rect x="509" y="548" width="1" height="40" fill="#c0c0c0" />
<rect x="517" y="550" width="1" height="38" fill="#c0c0c0" />
<rect x="525" y="551" width="1" height="37" fill="#c0c0c0" />
<rect x="533" y="552" width="1" height="36" fill="#c0c0c0" />
<rect x="541" y="554" width="1" height="34" fill="#c0c0c0" />
<rect x="549" y="556" width="1" height="32" fill="#c0c0c0" />
<rect x="557" y="558" width="1" height="30" fill="#c0c0c0" />
<rect x="565" y="561" width="1" height="27" fill="#c0c0c0" />
<rect x="573" y="565" width="1" height="23" fill="#c0c0c0" />
<rect x="581" y="571" width="1" height="17" fill="#c0c0c0" />
<rect x="589" y="578" width="1" height="10" fill="#c0c0c0" />
<rect x="597" y="582" width="1" height="6" fill="#c0c0c0" />
<rect x="605" y="587" width="1" height="1" fill="#c0c0c0" />
<rect x="613" y="587" width="1" height="3" fill="#c0c0c0" />
<rect x="621" y="587" width="1" height="7" fill="#c0c0c0" />
<rect x="629" y="587" width="1" height="11" fill="#c0c0c0" />
<rect x="637" y="587" width="1" height="12" fill="#c0c0c0" />
<rect x="645" y="587" width="1" height="10" fill="#c0c0c0" />
<rect x="653" y="587" width="1" height="8" fill="#c0c0c0" />
<rect x="661" y="587" width="1" height="7" fill="#c0c0c0" />
<rect x="669" y="587" width="1" height="6" fill="#c0c0c0" />
<rect x="677" y="587" width="1" height="4" fill="#c0c0c0" />
<rect x="685" y="587" width="1" height="2" fill="#c0c0c0" />
<rect x="693" y="587" width="1" height="1" fill="#c0c0c0" />
<rect x="701" y="587" width="1" height="1" fill="#c0c0c0" />
<rect x="709" y="586" width="1" height="2" fill="#c0c0c0" />
<rect x="717" y="582" width="1" height="6" fill="#c0c0c0" />
<rect x="725" y="579" width="1" height="9" fill="#c0c0c0" />
<rect x="733" y="575" width="1" height="13" fill="#c0c0c0" />
<rect x="741" y="570" width="1" height="18" fill="#c0c0c0" />
<rect x="749" y="566" width="1" height="22" fill="#c0c0c0" />
<rect x="757" y="562" width="1" height="26" fill="#c0c0c0" />
<rect x="765" y="558" width="1" height="30" fill="#c0c0c0" />
<rect x="773" y="557" width="1" height="31" fill="#c0c0c0" />
<rect x="781" y="554" width="1" height="34" fill="#c0c0c0" />
<rect x="789" y="553" width="1" height="35" fill="#c0c0c0" />
<rect x="797" y="554" width="1" height="34" fill="#c0c0c0" />
<rect x="805" y="554" width="1" height="34" fill="#c0c0c0" />
<rect x="813" y="553" width="1" height="35" fill="#c0c0c0" />
<rect x="821" y="554" width="1" height="34" fill="#c0c0c0" />
<rect x="829" y="557" width="1" height="31" fill="#c0c0c0" />
<rect x="837" y="559" width="1" height="29" fill="#c0c0c0" />
<rect x="845" y="562" width="1" height="26" fill="#c0c0c0" />
<rect x="853" y="566" width="1" height="22" fill="#c0c0c0" />
<rect x="861" y="571" width="1" height="17" fill="#c0c0c0" />
<rect x="869" y="572" width="1" height="16" fill="#c0c0c0" />
<rect x="877" y="569" width="1" height="19" fill="#c0c0c0" />
<rect x="885" y="566" width="1" height="22" fill="#c0c0c0" />
<rect x="893" y="562" width="1" height="26" fill="#c0c0c0" />
<rect x="901" y="559" width="1" height="29" fill="#c0c0c0" />
<rect x="909" y="556" width="1" height="32" fill="#c0c0c0" />
<rect x="917" y="555" width="1" height="33" fill="#c0c0c0" />
<rect x="925" y="555" width="1" height="33" fill="#c0c0c0" />
<rect x="933" y="555" width="1" height="33" fill="#c0c0c0" />
<rect x="941" y="555" width="1" height="33" fill="#c0c0c0" />
<rect x="949" y="557" width="1" height="31" fill="#c0c0c0" />
<rect x="957" y="557" width="1" height="31" fill="#c0c0c0" />
<rect x="965" y="558" width="1" height="30" fill="#c0c0c0" />
<rect x="973" y="560" width="1" height="28" fill="#c0c0c0" />
<rect x="981" y="562" width="1" height="26" fill="#c0c0c0" />
<rect x="989" y="561" width="1" height="27" fill="#c0c0c0" />
<rect x="997" y="562" width="1" height="26" fill="#c0c0c0" />
<rect x="1005" y="563" width="1" height="25" fill="#c0c0c0" />
<rect x="1013" y="565" width="1" height="23" fill="#c0c0c0" />
<rect x="1021" y="566" width="1" height="22" fill="#c0c0c0" />
<rect x="1029" y="566" width="1" height="22" fill="#c0c0c0" />
<rect x="1037" y="566" width="1" height="22" fill="#c0c0c0" />
<rect x="1045" y="565" width="1" height="23" fill="#c0c0c0" />
<rect x="1053" y="564" width="1" height="24" fill="#c0c0c0" />
<rect x="1061" y="564" width="1" height="24" fill="#c0c0c0" />
<rect x="1069" y="565" width="1" height="23" fill="#c0c0c0" />
<rect x="1077" y="568" width="1" height="20" fill="#c0c0c0" />
<rect x="1085" y="572" width="1" height="16" fill="#c0c0c0" />
<rect x="1093" y="575" width="1" height="13" fill="#c0c0c0" />
<rect x="1101" y="577" width="1" height="11" fill="#c0c0c0" />
<rect x="1109" y="578" width="1" height="10" fill="#c0c0c0" />
<rect x="1117" y="578" width="1" height="10" fill="#c0c0c0" />
<rect x="1125" y="577" width="1" height="11" fill="#c0c0c0" />
<rect x="1133" y="577" width="1" height="11" fill="#c0c0c0" />
<rect x="1141" y="576" width="1" height="12" fill="#c0c0c0" />
<rect x="1149" y="572" width="1" height="16" fill="#c0c0c0" />
<rect x="1157" y="571" width="1" height="17" fill="#c0c0c0" />
<rect x="1165" y="569" width="1" height="19" fill="#c0c0c0" />
<rect x="1173" y="568" width="1" height="20" fill="#c0c0c0" />
<rect x="1181" y="565" width="1" height="23" fill="#c0c0c0" />
<rect x="1189" y="564" width="1" height="24" fill="#c0c0c0" />
<rect x="1197" y="566" width="1" height="22" fill="#c0c0c0" />
<rect x="1205" y="569" width="1" height="19" fill="#c0c0c0" />
<rect x="1213" y="572" width="1" height="16" fill="#c0c0c0" />
<rect x="1221" y="574" width="1" height="14" fill="#c0c0c0" />
<rect x="1229" y="575" width="1" height="13" fill="#c0c0c0" />
<rect x="1237" y="575" width="1" height="13" fill="#c0c0c0" />
<rect x="1245" y="576" width="1" height="12" fill="#c0c0c0" />
<rect x="1253" y="578" width="1" height="10" fill="#c0c0c0" />
<rect x="1261" y="580" width="1" height="8" fill="#c0c0c0" />
<rect x="1269" y="582" width="1" height="6" fill="#c0c0c0" />
<rect x="1277" y="584" width="1" height="4" fill="#c0c0c0" />
<rect x="1285" y="584" width="1" height="4" fill="#c0c0c0" />
<rect x="1293" y="583" width="1" height="5" fill="#c0c0c0" />
</g>
<polyline points="5.0,550.4 20.7,558.7 36.3,566.5 59.6,577.6 75.1,582.0 90.6,584.6 111.4,586.7 129.5,584.6 150.2,581.5 165.8,578.1 178.7,574.8 202.0,574.8 220.1,578.1 233.1,582.5 248.6,585.9 261.6,589.0 279.7,590.6 292.7,589.3 308.2,585.1 323.7,577.4 341.9,567.8 362.6,556.6 380.7,550.2 398.9,547.1 414.4,545.8 430.0,546.5 450.7,549.1 476.6,551.0 507.7,549.7 544.0,549.7 564.7,552.2 580.2,556.1 595.8,562.6 611.3,570.4 624.3,578.1 637.2,584.6 650.2,589.8 663.1,592.9 678.6,594.2 694.2,593.2 709.7,591.1 725.3,587.2 740.8,583.3 756.3,577.6 774.5,569.6 792.6,562.6 808.1,557.4 823.7,554.3 844.4,554.8 862.6,558.2 883.3,563.4 911.8,564.4 929.9,561.8 948.1,557.4 966.2,555.4 974.0,555.4 1007.6,558.2 1036.1,563.1 1056.8,563.4 1080.2,564.4 1095.7,566.5 1108.6,569.1 1129.4,572.4 1150.1,575.6 1160.4,575.0 1178.6,573.0 1188.9,570.4 1207.1,568.3 1238.1,568.6 1256.3,571.2 1266.6,574.3 1282.2,576.3 1293.0,579.8" fill="none" stroke="#ff0000" stroke-width="1" shape-rendering="crispEdges" stroke-dasharray="3,3"/>
<text x="9.4" y="555.3" font-size="12.6" fill="#000" textLength="170.3" lengthAdjust="spacingAndGlyphs" stroke="#000" stroke-width="0.25">MACD(12,26,9) 1.5795 2.9509</text>
<text x="1633.6" y="553.2" font-size="12.6" fill="#000" textLength="46" lengthAdjust="spacingAndGlyphs" stroke="#000" stroke-width="0.25">17.1406</text>
<text x="1633.6" y="591.5" font-size="12.6" fill="#000" textLength="24" lengthAdjust="spacingAndGlyphs" stroke="#000" stroke-width="0.25">0.00</text>
<text x="1633.6" y="598.2" font-size="12.6" fill="#000" textLength="42" lengthAdjust="spacingAndGlyphs" stroke="#000" stroke-width="0.25">-3.1179</text>
<g shape-rendering="crispEdges">
<line x1="5" y1="643.5" x2="1630" y2="643.5" stroke="#c0c0c0" stroke-dasharray="3,3"/>
<line x1="5" y1="693.5" x2="1630" y2="693.5" stroke="#c0c0c0" stroke-dasharray="3,3"/>
</g>
<polyline points="5.0,676.3 13.0,669.6 21.0,674.2 29.0,667.0 37.0,671.1 45.0,675.5 53.0,671.6 61.0,669.6 69.0,668.5 77.0,665.4 85.0,666.5 93.0,669.6 101.0,668.3 109.0,658.2 117.0,658.2 125.0,656.1 133.0,645.2 141.0,650.1 149.0,652.2 157.0,656.9 165.0,658.2 173.0,662.1 181.0,665.2 189.0,681.5 197.0,672.9 205.0,676.3 213.0,678.6 221.0,676.3 229.0,669.6 237.0,677.6 245.0,675.5 253.0,666.2 261.0,666.2 269.0,670.3 277.0,663.3 285.0,660.0 293.0,642.4 301.0,643.7 309.0,642.4 317.0,645.2 325.0,646.5 333.0,643.7 341.0,640.6 349.0,638.2 357.0,638.0 365.0,636.9 373.0,643.1 381.0,641.3 389.0,649.6 397.0,646.3 405.0,648.3 413.0,646.5 421.0,650.7 429.0,649.6 437.0,648.6 445.0,640.6 453.0,639.3 461.0,642.6 469.0,641.3 477.0,637.2 485.0,632.3 493.0,635.4 501.0,639.5 509.0,638.2 517.0,647.5 525.0,646.3 533.0,642.4 541.0,649.1 549.0,650.4 557.0,656.1 565.0,661.3 573.0,671.6 581.0,681.2 589.0,685.4 597.0,682.3 605.0,686.1 613.0,686.4 621.0,689.2 629.0,691.3 637.0,675.5 645.0,667.2 653.0,667.2 661.0,669.3 669.0,667.5 677.0,660.5 685.0,665.2 693.0,669.3 701.0,665.2 709.0,652.5 717.0,652.2 725.0,649.6 733.0,643.7 741.0,639.5 749.0,638.2 757.0,635.4 765.0,636.4 773.0,638.5 781.0,635.4 789.0,637.2 797.0,646.5 805.0,643.7 813.0,640.6 821.0,645.2 829.0,663.1 837.0,657.6 845.0,664.4 853.0,670.3 861.0,673.2 869.0,663.1 877.0,650.4 885.0,648.3 893.0,646.5 901.0,645.2 909.0,646.5 917.0,647.5 925.0,648.6 933.0,648.6 941.0,650.4 949.0,649.4 957.0,649.4 965.0,650.4 973.0,660.2 981.0,655.6 989.0,646.5 997.0,655.1 1005.0,658.4 1013.0,657.4 1021.0,657.4 1029.0,652.2 1037.0,650.4 1045.0,650.4 1053.0,643.4 1061.0,650.1 1069.0,654.0 1077.0,669.8 1085.0,674.2 1093.0,667.2 1101.0,669.3 1109.0,666.2 1117.0,658.4 1125.0,657.4 1133.0,662.3 1141.0,655.1 1149.0,650.4 1157.0,653.5 1165.0,651.4 1173.0,649.4 1181.0,644.4 1189.0,655.6 1197.0,662.3 1205.0,668.3 1213.0,666.5 1221.0,665.4 1229.0,666.5 1237.0,658.4 1245.0,668.3 1253.0,666.2 1261.0,671.4 1269.0,671.4 1277.0,674.5 1285.0,664.4 1293.0,661.5" fill="none" stroke="#1e90ff" stroke-width="1" shape-rendering="crispEdges" />
<text x="9.1" y="619.2" font-size="12.6" fill="#000" textLength="91" lengthAdjust="spacingAndGlyphs" stroke="#000" stroke-width="0.25">RSI(14) 55.2387</text>
<text x="1633.6" y="617.0" font-size="12.6" fill="#000" textLength="19.8" lengthAdjust="spacingAndGlyphs" stroke="#000" stroke-width="0.25">100</text>
<text x="1633.6" y="647.7" font-size="12.6" fill="#000" textLength="13" lengthAdjust="spacingAndGlyphs" stroke="#000" stroke-width="0.25">70</text>
<text x="1633.6" y="698.0" font-size="12.6" fill="#000" textLength="13" lengthAdjust="spacingAndGlyphs" stroke="#000" stroke-width="0.25">30</text>
<text x="1633.6" y="728.7" font-size="12.6" fill="#000" textLength="6.5" lengthAdjust="spacingAndGlyphs" stroke="#000" stroke-width="0.25">0</text>
<text x="3.9" y="748.3" font-size="12.45" fill="#000" stroke="#000" stroke-width="0.25">22 Jan 2019</text>
<text x="99.9" y="748.3" font-size="12.45" fill="#000" stroke="#000" stroke-width="0.25">24 Jan 20:00</text>
<text x="195.9" y="748.3" font-size="12.45" fill="#000" stroke="#000" stroke-width="0.25">28 Jan 16:00</text>
<text x="291.9" y="748.3" font-size="12.45" fill="#000" stroke="#000" stroke-width="0.25">30 Jan 16:00</text>
<text x="387.9" y="748.3" font-size="12.45" fill="#000" stroke="#000" stroke-width="0.25">1 Feb 16:00</text>
<text x="483.9" y="748.3" font-size="12.45" fill="#000" stroke="#000" stroke-width="0.25">5 Feb 12:00</text>
<text x="579.9" y="748.3" font-size="12.45" fill="#000" stroke="#000" stroke-width="0.25">7 Feb 12:00</text>
<text x="675.9" y="748.3" font-size="12.45" fill="#000" stroke="#000" stroke-width="0.25">11 Feb 08:00</text>
<text x="771.9" y="748.3" font-size="12.45" fill="#000" stroke="#000" stroke-width="0.25">13 Feb 08:00</text>
<text x="867.9" y="748.3" font-size="12.45" fill="#000" stroke="#000" stroke-width="0.25">15 Feb 08:00</text>
<text x="963.9" y="748.3" font-size="12.45" fill="#000" stroke="#000" stroke-width="0.25">19 Feb 04:00</text>
<text x="1059.9" y="748.3" font-size="12.45" fill="#000" stroke="#000" stroke-width="0.25">21 Feb 04:00</text>
<text x="1155.9" y="748.3" font-size="12.45" fill="#000" stroke="#000" stroke-width="0.25">25 Feb 00:00</text>
<text x="1251.9" y="748.3" font-size="12.45" fill="#000" stroke="#000" stroke-width="0.25">27 Feb 00:00</text>
</svg>
</body></html>
